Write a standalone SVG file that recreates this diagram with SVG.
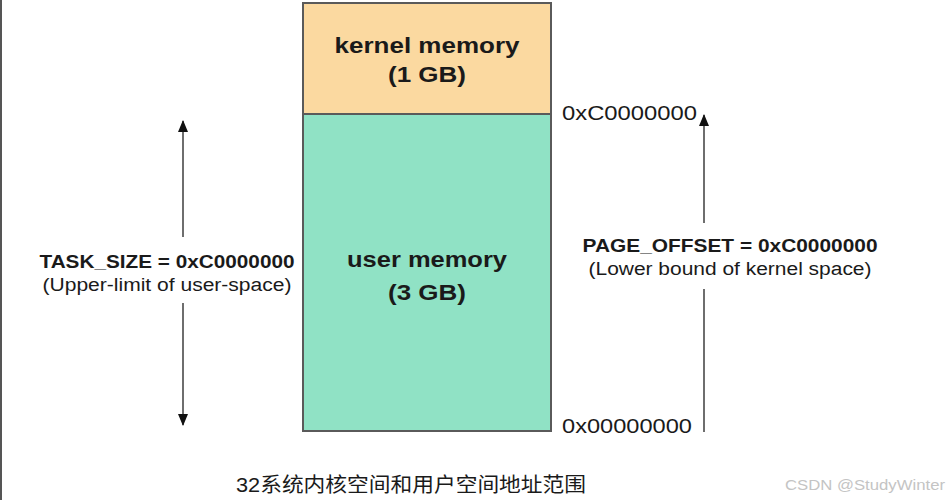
<svg xmlns="http://www.w3.org/2000/svg" width="951" height="500" viewBox="0 0 951 500">
<style>
.box{stroke:#5a5a5a;stroke-width:2}
.lbl{font-family:"Liberation Sans",Arial,sans-serif;fill:#1a1a1a}
.b{font-weight:bold}
.conn{stroke:#6e6e6e;stroke-width:2;fill:none}
</style>
<defs>
<marker id="ah" viewBox="0 0 12 10" refX="11" refY="5" markerWidth="12" markerHeight="10" markerUnits="userSpaceOnUse" orient="auto">
<path d="M0,0 L12,5 L0,10 z" fill="#111"/>
</marker>
</defs>
<rect x="0" y="0" width="951" height="500" fill="#fff"/>
<line x1="1" y1="0" x2="1" y2="500" stroke="#555" stroke-width="2"/>
<g id="kernel">
<rect class="box" x="303" y="3" width="248" height="111" fill="#fbd9a0"/>
<text class="lbl b" x="427" y="53" font-size="22" text-anchor="middle" textLength="185" lengthAdjust="spacingAndGlyphs">kernel memory</text>
<text class="lbl b" x="427" y="82" font-size="22" text-anchor="middle" textLength="78" lengthAdjust="spacingAndGlyphs">(1 GB)</text>
</g>
<g id="user">
<rect class="box" x="303" y="114" width="248" height="317" fill="#90e2c5"/>
<text class="lbl b" x="427" y="267" font-size="22" text-anchor="middle" textLength="160" lengthAdjust="spacingAndGlyphs">user memory</text>
<text class="lbl b" x="427" y="300" font-size="22" text-anchor="middle" textLength="78" lengthAdjust="spacingAndGlyphs">(3 GB)</text>
</g>
<g id="addr-top">
<text class="lbl" x="562" y="120" font-size="21" textLength="135" lengthAdjust="spacingAndGlyphs">0xC0000000</text>
</g>
<g id="addr-bottom">
<text class="lbl" x="562" y="433" font-size="21" textLength="130" lengthAdjust="spacingAndGlyphs">0x00000000</text>
</g>
<g id="task-size">
<text class="lbl b" x="167" y="268" font-size="19" text-anchor="middle" textLength="255" lengthAdjust="spacingAndGlyphs">TASK_SIZE = 0xC0000000</text>
<text class="lbl" x="167" y="291" font-size="18" text-anchor="middle" textLength="249" lengthAdjust="spacingAndGlyphs">(Upper-limit of user-space)</text>
</g>
<g id="page-offset">
<text class="lbl b" x="730" y="252" font-size="19" text-anchor="middle" textLength="295" lengthAdjust="spacingAndGlyphs">PAGE_OFFSET = 0xC0000000</text>
<text class="lbl" x="730" y="275" font-size="18" text-anchor="middle" textLength="283" lengthAdjust="spacingAndGlyphs">(Lower bound of kernel space)</text>
</g>
<g id="connectors">
<line class="conn" x1="183" y1="237" x2="183" y2="121" marker-end="url(#ah)"/>
<line class="conn" x1="183" y1="303" x2="183" y2="425" marker-end="url(#ah)"/>
<line class="conn" x1="704" y1="223" x2="704" y2="115" marker-end="url(#ah)"/>
<line class="conn" x1="704" y1="289" x2="704" y2="432"/>
</g>
<g id="caption">
<text x="236" y="492" font-family="'Liberation Sans','Noto Sans CJK SC',sans-serif" font-size="20" fill="#1a1a1a" textLength="350" lengthAdjust="spacingAndGlyphs">32系统内核空间和用户空间地址范围</text>
<text x="785" y="490" font-family="'Liberation Sans',Arial,sans-serif" font-size="15" fill="#c4c4c4" textLength="160" lengthAdjust="spacingAndGlyphs">CSDN @StudyWinter</text>
</g>
</svg>
